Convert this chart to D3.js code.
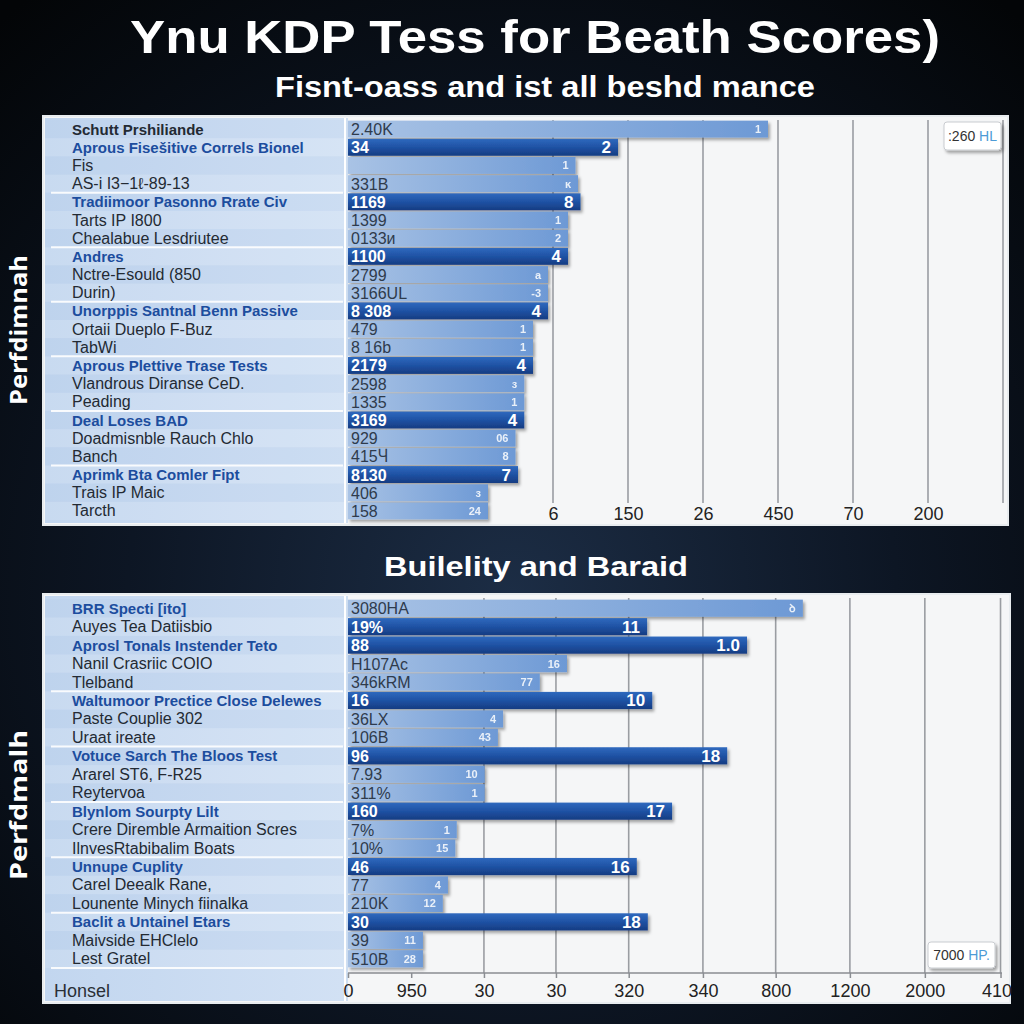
<!DOCTYPE html>
<html><head><meta charset="utf-8">
<script src="https://cdn.jsdelivr.net/npm/d3@7"></script>
<style>html,body{margin:0;padding:0;background:#06090e;} svg{display:block}</style>
</head><body><svg id="c" width="1024" height="1024"></svg>
<script>
// ---------- DATA ----------
const topCategories = ["Schutt Prshiliande","Aprous Fisešitive Correls Bionel","Fis","AS-i I3−1ℓ-89-13","Tradiimoor Pasonno Rrate Civ","Tarts IP I800","Chealabue Lesdriutee","Andres","Nctre-Esould (850","Durin)","Unorppis Santnal Benn Passive","Ortaii Dueplo F-Buz","TabWi","Aprous Plettive Trase Tests","Vlandrous Diranse CeD.","Peading","Deal Loses BAD","Doadmisnble Rauch Chlo","Banch","Aprimk Bta Comler Fipt","Trais IP Maic","Tarcth"];
const topIsHead   = [2,1,0,0,1,0,0,1,0,0,1,0,0,1,0,0,1,0,0,1,0,0];
const topIsMain   = [0,1,0,0,1,0,0,1,0,0,1,0,0,1,0,0,1,0,0,1,0,0];
const topValues   = [168,108,91,92,93,88,88,88,80,80,80,74,74,74,70.5,70.5,70.5,67,67,68,56,56];
const topBarLabels= ["2.40K","34","","331B","1169","1399","0133и","1100","2799","3166UL","8 308","479","8 16b","2179","2598","1335","3169","929","415Ⴗ","8130","406","158"];
const topEndLabels= ["1","2","1","ĸ","8","1","2","4","a","-3","4","1","1","4","з","1","4","06","8","7","з","24"];
const topTicks    = [82,112,142,172,202,232,262];
const topTickLabels = ["6","150","26","450","70","200",""];

const botCategories = ["BRR Specti [ito]","Auyes Tea Datiisbio","Aprosl Tonals Instender Teto","Nanil Crasriic COIO","Tlelband","Waltumoor Precticе Close Delewes","Paste Couplie 302","Uraat ireate","Votuce Sarch The Bloos Test","Ararel ST6, F-R25","Reytervoa","Blynlom Sourpty Lilt","Crere Diremble Armaition Scres","IlnvesRtabibalim Boats","Unnupe Cuplity","Carel Deealk Rane,","Lounente Minych fiinalka","Baclit a Untainel Etars","Maivside EHClelo","Lest Gratel"];
const botIsHead   = [1,0,1,0,0,1,0,0,1,0,0,1,0,0,1,0,0,1,0,0];
const botIsMain   = [0,1,1,0,0,1,0,0,1,0,0,1,0,0,1,0,0,1,0,0];
const botValues   = [619,407,543,298,261,414,211,204,516,186,186,441,148,146,393,136,129,408,102,102];
const botBarLabels= ["3080HA","19%","88","H107Ac","346kRM","16","36LX","106B","96","7.93","311%","160","7%","10%","46","77","210K","30","39","510B"];
const botEndLabels= ["ꝺ","11","1.0","16","77","10","4","43","18","10","1","17","1","15","16","4","12","18","11","28"];
const botTicks    = [0,86,185,283,382,483,582,683,785,888];
const botTickLabels = ["0","950","30","30","320","340","800","1200","2000","410"];
const botAxisRowLabel = "Honsel";

const titleText = "Ynu KDP Tess for Beath Scores)";
const subtitleText = "Fisnt-oass and ist all beshd mance";
const section2Title = "Builelity and Baraid";
const topYTitle = "Perfdimnah";
const botYTitle = "Perfdmalh";
const topLegend = [":260", " HL"];
const botLegend = ["7000", " HP."];

// ---------- DRAW ----------
const svg = d3.select("#c");
const defs = svg.append("defs");

const bg = defs.append("radialGradient").attr("id","bg").attr("cx","0.5").attr("cy","0.58").attr("r","0.75");
bg.append("stop").attr("offset","0").attr("stop-color","#1c2d45");
bg.append("stop").attr("offset","0.5").attr("stop-color","#0d1624");
bg.append("stop").attr("offset","1").attr("stop-color","#030507");

const gDark = defs.append("linearGradient").attr("id","gDark").attr("x1",0).attr("y1",0).attr("x2",0).attr("y2",1);
gDark.append("stop").attr("offset","0").attr("stop-color","#2f69be");
gDark.append("stop").attr("offset","0.5").attr("stop-color","#1f52a4");
gDark.append("stop").attr("offset","1").attr("stop-color","#163c82");
const gLight = defs.append("linearGradient").attr("id","gLight").attr("x1",0).attr("y1",0).attr("x2",1).attr("y2",0);
gLight.append("stop").attr("offset","0").attr("stop-color","#a9c3e5");
gLight.append("stop").attr("offset","1").attr("stop-color","#6d99d5");
const gCol = defs.append("linearGradient").attr("id","gCol").attr("x1",0).attr("y1",0).attr("x2",1).attr("y2",0);
gCol.append("stop").attr("offset","0").attr("stop-color","#c2d6ef");
gCol.append("stop").attr("offset","1").attr("stop-color","#d2e1f4");

const sh = defs.append("filter").attr("id","sh").attr("x","-5%").attr("y","-30%").attr("width","115%").attr("height","180%");
sh.append("feDropShadow").attr("dx",2).attr("dy",2.5).attr("stdDeviation",1.8).attr("flood-color","#000").attr("flood-opacity",0.35);

svg.append("rect").attr("width",1024).attr("height",1024).attr("fill","url(#bg)");

// titles
svg.append("text").attr("x",535).attr("y",53).attr("text-anchor","middle")
  .attr("font-family","Liberation Sans, Arial, sans-serif").attr("font-weight","bold").attr("font-size",47)
  .attr("fill","#fff").attr("textLength",810).attr("lengthAdjust","spacingAndGlyphs").text(titleText);
svg.append("text").attr("x",545).attr("y",97).attr("text-anchor","middle")
  .attr("font-family","Liberation Sans, Arial, sans-serif").attr("font-weight","bold").attr("font-size",29)
  .attr("fill","#fff").attr("textLength",540).attr("lengthAdjust","spacingAndGlyphs").text(subtitleText);
svg.append("text").attr("x",536).attr("y",576).attr("text-anchor","middle")
  .attr("font-family","Liberation Sans, Arial, sans-serif").attr("font-weight","bold").attr("font-size",28)
  .attr("fill","#fff").attr("textLength",304).attr("lengthAdjust","spacingAndGlyphs").text(section2Title);

function yTitle(txt, cy){
  svg.append("text").attr("transform",`translate(27,${cy}) rotate(-90)`).attr("text-anchor","middle")
    .attr("font-family","Open Sans, Liberation Sans, sans-serif").attr("font-weight","bold").attr("font-size",23)
    .attr("fill","#fff").attr("textLength",150).attr("lengthAdjust","spacingAndGlyphs").text(txt);
}
yTitle(topYTitle, 330);
yTitle(botYTitle, 805);

function panel(cfg){
  const {x0,x1,y0,y1,rowsTop,rowsBot,cats,isHead,isMain,vals,barLabels,endLabels,ticks,tickLabels,domainMax,plotRight,gridFrom,tickY,axisLine,legend,legendBox,axisRowLabel,sepAfterLast,gridBottom} = cfg;
  const g = svg.append("g");
  g.append("rect").attr("x",x0).attr("y",y0).attr("width",x1-x0).attr("height",y1-y0)
    .attr("fill","#f5f6f7").attr("stroke","#e8ecef").attr("stroke-width",2);
  g.append("rect").attr("x",x0+2).attr("y",y0+2).attr("width",343-x0).attr("height",y1-y0-4).attr("fill","url(#gCol)");
  const y = d3.scaleBand().domain(d3.range(cats.length)).range([rowsTop,rowsBot]).paddingInner(0.07).paddingOuter(0.035);
  const rowH = (rowsBot-rowsTop)/cats.length;
  g.selectAll(".band").data(d3.range(cats.length)).join("rect")
    .attr("x",x0+2).attr("width",343-x0)
    .attr("y",i=>rowsTop + i*rowH).attr("height",rowH)
    .attr("fill",i=> i%2? "#ffffff":"#9fbde3").attr("opacity",0.10);
  g.append("line").attr("x1",345).attr("x2",345).attr("y1",y0+2).attr("y2",y1-2).attr("stroke","#ffffff").attr("stroke-width",2);
  g.append("rect").attr("x",346).attr("y",y0+2).attr("width",2).attr("height",y1-y0-4).attr("fill","#cfdff2");

  const x = d3.scaleLinear().domain([0,domainMax]).range([348,plotRight]);

  const seps = d3.range(cats.length).filter(i=> isHead[i]===1 && i>=3).map(i=> rowsTop + i*rowH);
  if (sepAfterLast) seps.push(rowsBot);
  g.selectAll(".sep").data(seps).join("line")
    .attr("x1",x0+8).attr("x2",343).attr("y1",d=>d).attr("y2",d=>d)
    .attr("stroke","#ffffff").attr("stroke-width",2).attr("opacity",0.9);

  g.selectAll(".grid").data(ticks.filter(t=>t>=gridFrom)).join("line")
    .attr("x1",d=>x(d)).attr("x2",d=>x(d)).attr("y1",y0+4).attr("y2",gridBottom)
    .attr("stroke","#9a9da2").attr("stroke-width",1.6);

  const axis = d3.axisBottom(x).tickValues(ticks).tickFormat((d,i)=>tickLabels[i]).tickSize(axisLine?5:0).tickPadding(axisLine?6:5);
  const ag = g.append("g").attr("transform",`translate(0,${tickY})`).call(axis);
  ag.selectAll("text").attr("font-family","Liberation Sans, Arial, sans-serif").attr("font-size",18).attr("fill","#222");
  ag.selectAll(".tick:last-of-type text").attr("dx",-4);
  if(!axisLine){ ag.select(".domain").remove(); }
  else { ag.select(".domain").attr("stroke","#8a8d92").attr("stroke-width",1.5).attr("d",`M348,0H${plotRight}`); ag.selectAll(".tick line").attr("stroke","#8a8d92").attr("stroke-width",1.5); }

  g.selectAll(".bar").data(vals).join("rect")
    .attr("x",x(0)).attr("y",(d,i)=>y(i)).attr("width",d=>x(d)-x(0)).attr("height",y.bandwidth())
    .attr("fill",(d,i)=> isMain[i]? "url(#gDark)":"url(#gLight)").attr("filter","url(#sh)");

  g.selectAll(".bl").data(barLabels).join("text")
    .attr("x",351).attr("y",(d,i)=>y(i)+y.bandwidth()/2+6)
    .attr("font-family","Liberation Sans, Arial, sans-serif")
    .attr("font-weight",(d,i)=> isMain[i]?"bold":"normal")
    .attr("font-size",16)
    .attr("fill",(d,i)=> isMain[i]?"#ffffff":"#2f3b4c").text(d=>d);
  g.selectAll(".el").data(endLabels).join("text")
    .attr("x",(d,i)=>x(vals[i])-7).attr("y",(d,i)=>y(i)+y.bandwidth()/2+(isMain[i]?6:4))
    .attr("text-anchor","end")
    .attr("font-family","Liberation Sans, Arial, sans-serif")
    .attr("font-weight","bold")
    .attr("font-size",(d,i)=> isMain[i]?17:11)
    .attr("fill","#ffffff").attr("opacity",(d,i)=> isMain[i]?1:0.85).text(d=>d);

  g.selectAll(".cl").data(cats).join("text")
    .attr("x",72).attr("y",(d,i)=>y(i)+y.bandwidth()/2+5.5)
    .attr("font-family","Liberation Sans, Arial, sans-serif")
    .attr("font-weight",(d,i)=> isHead[i]?"bold":"normal")
    .attr("font-size",(d,i)=> isHead[i]?15:16)
    .attr("fill",(d,i)=> isHead[i]===1?"#1c4d9e":"#232a33").text(d=>d);

  if (axisRowLabel){
    g.append("text").attr("x",54).attr("y",tickY+24).attr("font-family","Liberation Sans, Arial, sans-serif")
      .attr("font-size",18).attr("fill","#2a2f36").text(axisRowLabel);
  }

  const [lx,ly,lw,lh] = legendBox;
  const lg = g.append("g");
  lg.append("rect").attr("x",lx).attr("y",ly).attr("width",lw).attr("height",lh).attr("rx",3)
    .attr("fill","#ffffff").attr("stroke","#c9ccd0").attr("filter","url(#sh)");
  const lt = lg.append("text").attr("x",lx+lw/2).attr("y",ly+lh/2+5).attr("text-anchor","middle")
    .attr("font-family","Liberation Sans, Arial, sans-serif").attr("font-size",14).attr("fill","#333");
  lt.append("tspan").text(legend[0]);
  lt.append("tspan").attr("fill","#4d9bd6").text(legend[1]);
}

panel({x0:43,x1:1008,y0:116,y1:525,rowsTop:120,rowsBot:520,cats:topCategories,isHead:topIsHead,isMain:topIsMain,
  vals:topValues,barLabels:topBarLabels,endLabels:topEndLabels,ticks:topTicks,tickLabels:topTickLabels,
  domainMax:262,plotRight:1003,gridFrom:0,tickY:502,gridBottom:503,axisLine:false,legend:topLegend,legendBox:[944,122,57,28],
  axisRowLabel:null,sepAfterLast:false});

panel({x0:43,x1:1010,y0:594,y1:1003,rowsTop:599,rowsBot:968,cats:botCategories,isHead:botIsHead,isMain:botIsMain,
  vals:botValues,barLabels:botBarLabels,endLabels:botEndLabels,ticks:botTicks,tickLabels:botTickLabels,
  domainMax:890,plotRight:1002,gridFrom:150,tickY:973,gridBottom:973,axisLine:true,legend:botLegend,legendBox:[928,942,67,26],
  axisRowLabel:botAxisRowLabel,sepAfterLast:true});
</script>
</body></html>
